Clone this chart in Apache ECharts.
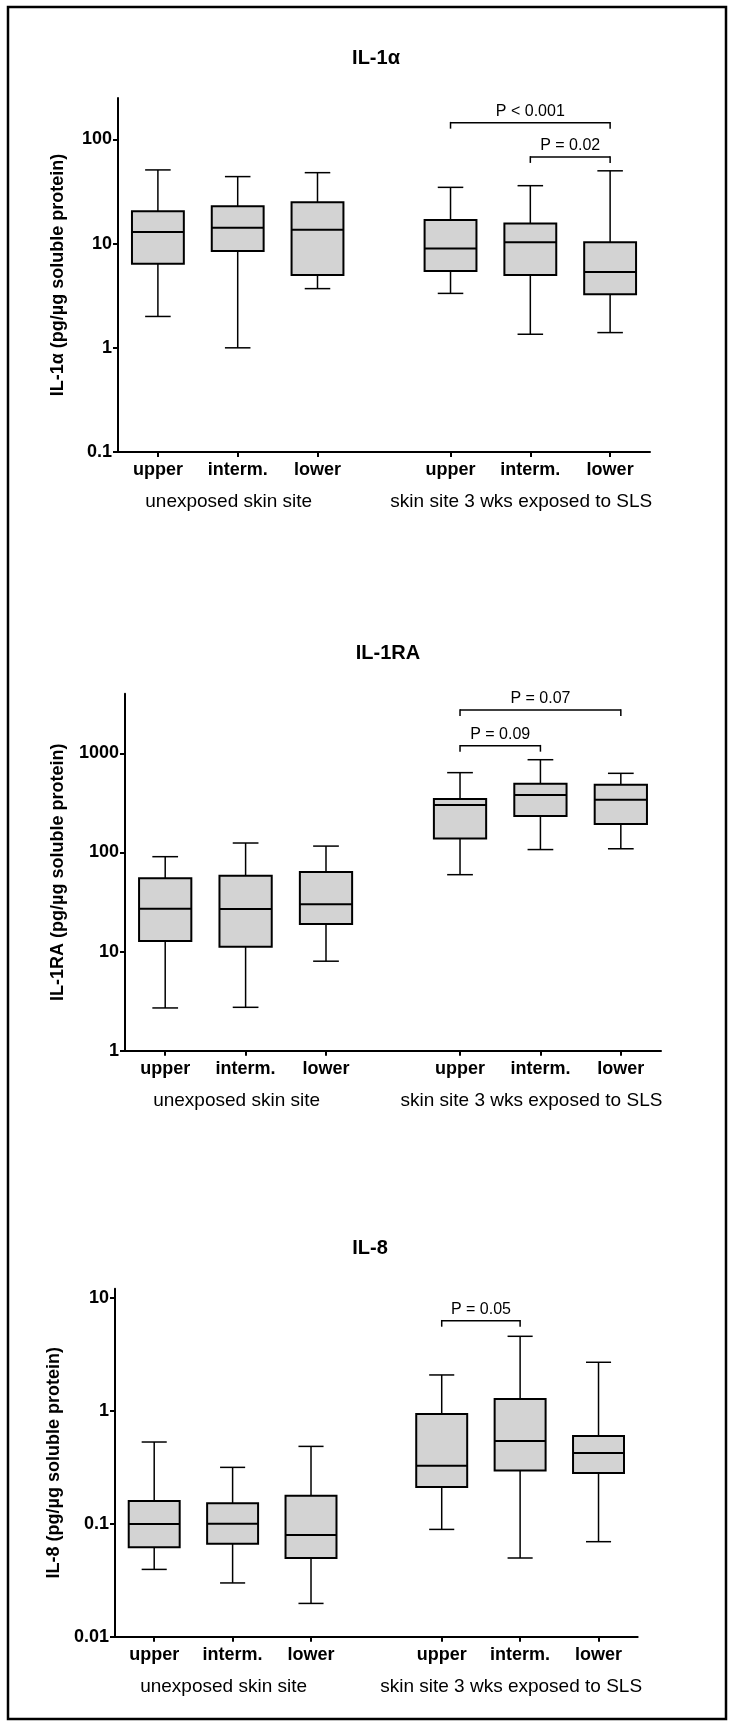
<!DOCTYPE html>
<html><head><meta charset="utf-8">
<script src="https://cdn.jsdelivr.net/npm/echarts@6/dist/echarts.min.js"></script>
<style>html,body{margin:0;padding:0;background:#fff}#c{width:734px;height:1726px}</style>
</head><body><div id="c"></div>
<script>
// ---- data ----
const categories = ['upper', 'interm.', 'lower', 'upper', 'interm.', 'lower'];
const categoryPos = [1, 2, 3, 4.667, 5.667, 6.667];
const groupLabels = ['unexposed skin site', 'skin site 3 wks exposed to SLS'];
const groupCenters = [2, 5.667];
const titles = ['IL-1\u03b1', 'IL-1RA', 'IL-8'];
const yNames = ['IL-1\u03b1 (pg/\u00b5g soluble protein)', 'IL-1RA (pg/\u00b5g soluble protein)', 'IL-8 (pg/\u00b5g soluble protein)'];

const il1aMin    = [2.0, 1.0, 3.7, 3.33, 1.35, 1.4];
const il1aQ1     = [6.4, 8.5, 5.0, 5.47, 5.0, 3.26];
const il1aMedian = [12.9, 14.2, 13.6, 9.0, 10.3, 5.35];
const il1aQ3     = [20.5, 22.9, 24.9, 16.9, 15.6, 10.3];
const il1aMax    = [51, 44, 48, 34.7, 36, 50];

const il1raMin    = [2.7, 2.74, 8.0, 59.7, 107, 109];
const il1raQ1     = [12.8, 11.2, 19, 138, 233, 194];
const il1raMedian = [27.1, 26.9, 30, 301, 380, 341];
const il1raQ3     = [54.8, 58.3, 63.5, 346, 495, 483];
const il1raMax    = [90.7, 124.6, 116, 639, 863, 629];

const il8Min    = [0.0394, 0.0299, 0.0197, 0.089, 0.0497, 0.0693];
const il8Q1     = [0.0618, 0.0665, 0.0497, 0.211, 0.296, 0.281];
const il8Median = [0.0993, 0.1, 0.0794, 0.326, 0.539, 0.422];
const il8Q3     = [0.159, 0.152, 0.177, 0.934, 1.27, 0.597];
const il8Max    = [0.528, 0.315, 0.483, 2.07, 4.55, 2.68];

const il1aTicks = [0.1, 1, 10, 100];
const il1raTicks = [1, 10, 100, 1000];
const il8Ticks = [0.01, 0.1, 1, 10];
const il1aRange = [0.1, 250];
const il1raRange = [1, 4000];
const il8Range = [0.01, 12];

// brackets: [fromCategoryIndex, toCategoryIndex, yValue, label]
const il1aBrackets = [[3, 5, 145, 'P < 0.001'], [4, 5, 68, 'P = 0.02']];
const il1raBrackets = [[3, 5, 2740, 'P = 0.07'], [3, 4, 1196, 'P = 0.09']];
const il8Brackets = [[3, 4, 6.25, 'P = 0.05']];

// ---- build ----
const FONT = 'Liberation Sans, Arial, Helvetica, sans-serif';
const panels = [
  {min: il1aMin, q1: il1aQ1, med: il1aMedian, q3: il1aQ3, max: il1aMax, ticks: il1aTicks, range: il1aRange, brackets: il1aBrackets,
   grid: {left: 118, top: 98, width: 532, height: 354}, nameGap: 51, titleX: 376, titleY: 58},
  {min: il1raMin, q1: il1raQ1, med: il1raMedian, q3: il1raQ3, max: il1raMax, ticks: il1raTicks, range: il1raRange, brackets: il1raBrackets,
   grid: {left: 125, top: 693.7, width: 536, height: 357}, nameGap: 58, titleX: 388, titleY: 653},
  {min: il8Min, q1: il8Q1, med: il8Median, q3: il8Q3, max: il8Max, ticks: il8Ticks, range: il8Range, brackets: il8Brackets,
   grid: {left: 115, top: 1288.7, width: 522.7, height: 348}, nameGap: 50, titleX: 370, titleY: 1248}
];

const BOX_W = 0.65, CAP_W = 0.32;
function ln(x1, y1, x2, y2, w) {
  return {type: 'line', shape: {x1, y1, x2, y2}, style: {stroke: '#000', lineWidth: w}};
}
function renderBox(params, api) {
  const x = api.value(0);
  const lo = api.coord([x, api.value(1)]);
  const q1 = api.coord([x, api.value(2)]);
  const md = api.coord([x, api.value(3)]);
  const q3 = api.coord([x, api.value(4)]);
  const hi = api.coord([x, api.value(5)]);
  const bl = api.coord([x - BOX_W / 2, api.value(3)])[0];
  const br = api.coord([x + BOX_W / 2, api.value(3)])[0];
  const cl = api.coord([x - CAP_W / 2, api.value(3)])[0];
  const cr = api.coord([x + CAP_W / 2, api.value(3)])[0];
  const cx = lo[0];
  return {type: 'group', children: [
    ln(cx, hi[1], cx, q3[1], 1.5),
    ln(cx, q1[1], cx, lo[1], 1.5),
    ln(cl, hi[1], cr, hi[1], 1.5),
    ln(cl, lo[1], cr, lo[1], 1.5),
    {type: 'rect', shape: {x: bl, y: q3[1], width: br - bl, height: q1[1] - q3[1]},
     style: {fill: '#d3d3d3', stroke: '#000', lineWidth: 2}},
    ln(bl, md[1], br, md[1], 2)
  ]};
}

const grids = [], xAxes = [], yAxes = [], series = [];
panels.forEach((p, i) => {
  grids.push(Object.assign({outerBoundsMode: 'none', containLabel: false}, p.grid));
  xAxes.push({
    type: 'value', gridIndex: i, min: 0.5, max: 7.1667,
    axisLine: {show: true, onZero: false, lineStyle: {color: '#000', width: 2}},
    axisTick: {show: true, customValues: categoryPos, length: 5, lineStyle: {color: '#000', width: 2}},
    axisLabel: {show: true, customValues: categoryPos, margin: 9, color: '#000',
      fontFamily: FONT, fontWeight: 'bold', fontSize: 18,
      formatter: v => {
        let best = 0;
        categoryPos.forEach((c, k) => { if (Math.abs(c - v) < Math.abs(categoryPos[best] - v)) best = k; });
        return categories[best];
      }},
    splitLine: {show: false}
  });
  yAxes.push({
    type: 'log', logBase: 10, gridIndex: i, min: p.range[0], max: p.range[1],
    name: yNames[i], nameLocation: 'middle', nameGap: p.nameGap,
    nameTextStyle: {color: '#000', fontFamily: FONT, fontWeight: 'bold', fontSize: 18},
    axisLine: {show: true, onZero: false, lineStyle: {color: '#000', width: 2}},
    axisTick: {show: true, customValues: p.ticks, length: 5, lineStyle: {color: '#000', width: 2}},
    minorTick: {show: false},
    axisLabel: {show: true, customValues: p.ticks, margin: 6, color: '#000',
      fontFamily: FONT, fontWeight: 'bold', fontSize: 18,
      formatter: v => String(+Number(v).toPrecision(6))},
    splitLine: {show: false}
  });
  series.push({
    type: 'custom', xAxisIndex: i, yAxisIndex: i, clip: false, silent: true,
    renderItem: renderBox,
    data: categoryPos.map((x, k) => [x, p.min[k], p.q1[k], p.med[k], p.q3[k], p.max[k]])
  });
  const br = p.brackets;
  series.push({
    type: 'custom', xAxisIndex: i, yAxisIndex: i, clip: false, silent: true,
    renderItem: (params, api) => {
      const a = api.coord([api.value(0), api.value(2)]);
      const b = api.coord([api.value(1), api.value(2)]);
      const lbl = br[params.dataIndex][3];
      return {type: 'group', children: [
        ln(a[0], a[1], b[0], b[1], 1.5),
        ln(a[0], a[1] - 0.75, a[0], a[1] + 6, 1.5),
        ln(b[0], b[1] - 0.75, b[0], b[1] + 6, 1.5),
        {type: 'text', style: {text: lbl, x: (a[0] + b[0]) / 2, y: a[1] - 11, align: 'center', verticalAlign: 'middle',
          font: '16px ' + FONT, fill: '#000'}}
      ]};
    },
    data: br.map(d => [categoryPos[d[0]], categoryPos[d[1]], d[2]])
  });
  series.push({
    type: 'custom', xAxisIndex: i, yAxisIndex: i, clip: false, silent: true,
    renderItem: (params, api) => {
      const c = api.coord([api.value(0), api.value(1)]);
      return {type: 'text', style: {text: groupLabels[params.dataIndex], x: c[0] - 9, y: c[1] + 50,
        align: 'center', verticalAlign: 'middle', font: '19px ' + FONT, fill: '#000'}};
    },
    data: groupCenters.map(x => [x, p.range[0]])
  });
});

const graphic = [
  {type: 'rect', shape: {x: 8, y: 7, width: 718, height: 1712}, style: {fill: 'none', stroke: '#000', lineWidth: 2.5}, silent: true}
].concat(panels.map((p, i) => ({
  type: 'text', x: p.titleX, y: p.titleY, silent: true,
  style: {text: titles[i], align: 'center', verticalAlign: 'middle', font: 'bold 20px ' + FONT, fill: '#000'}
})));

const chart = echarts.init(document.getElementById('c'), null, {renderer: 'canvas'});
chart.setOption({
  animation: false, backgroundColor: '#fff',
  grid: grids, xAxis: xAxes, yAxis: yAxes, series, graphic
});
</script></body></html>
